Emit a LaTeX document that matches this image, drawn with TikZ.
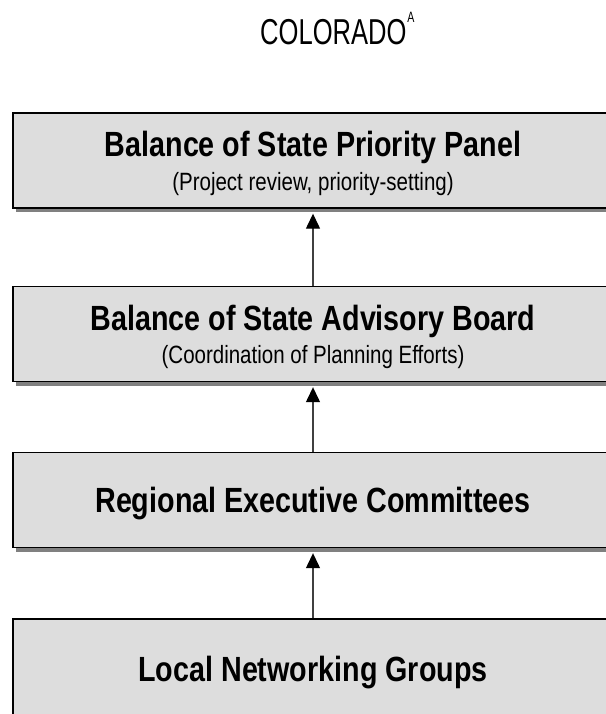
\documentclass[tikz,border=0pt]{standalone}
\usepackage{fontspec}
\setmainfont[FakeStretch=0.82]{Liberation Sans}
\newfontfamily\titlefont[FakeStretch=0.71]{Liberation Sans}
\usetikzlibrary{arrows.meta,shadows}

\definecolor{panelgray}{HTML}{DDDDDD}
\definecolor{shadowgray}{HTML}{808080}
\tikzset{
  panel/.style={draw=black,line width=1.4pt,fill=panelgray,minimum width=600pt,
    minimum height=95pt,inner sep=0pt,
    drop shadow={shadow xshift=3pt,shadow yshift=-4pt,fill=shadowgray,opacity=1}},
  head/.style={anchor=base,inner sep=0pt,font=\fontsize{35}{40}\selectfont\bfseries},
  sub/.style={anchor=base,inner sep=0pt,font=\fontsize{25}{30}\selectfont},
  uparrow/.style={draw=black!75,line width=1.3pt,
    -{Triangle[width=14pt,length=15pt,color=black]}}
}

\begin{document}
\begin{tikzpicture}[x=1pt,y=-1pt]
\useasboundingbox (0,0) rectangle (605,714);

% title
\node[anchor=base west,inner sep=0pt,font=\titlefont\fontsize{36}{40}\selectfont] (title) at (260,45)
  {COLORADO\hspace{1pt}\raisebox{22pt}{\fontsize{15}{15}\selectfont A}};

% the four levels
\node[panel] (panel) at (313,160.5) {};
\node[panel] (board) at (313,334) {};
\node[panel] (regional) at (313,500) {};
\node[panel,minimum height=111pt] (local) at (313,674.5) {};

\node[head] (panelhead) at ([yshift=3.5pt]panel.center) {Balance of State Priority Panel};
\node[sub] (panelsub) at ([yshift=-29.5pt]panel.center) {(Project review, priority-setting)};
\node[head] (boardhead) at ([yshift=3.5pt]board.center) {Balance of State Advisory Board};
\node[sub] (boardsub) at ([yshift=-29.5pt]board.center) {(Coordination of Planning Efforts)};
\node[head] (regionalhead) at ([yshift=-12.5pt]regional.center) {Regional Executive Committees};
\node[head] (localhead) at (313,681) {Local Networking Groups};

\foreach \lower/\upper in {board/panel,regional/board,local/regional}
\draw[uparrow] (\lower.north) -- ([yshift=-5pt]\upper.south);

\end{tikzpicture}
\end{document}
